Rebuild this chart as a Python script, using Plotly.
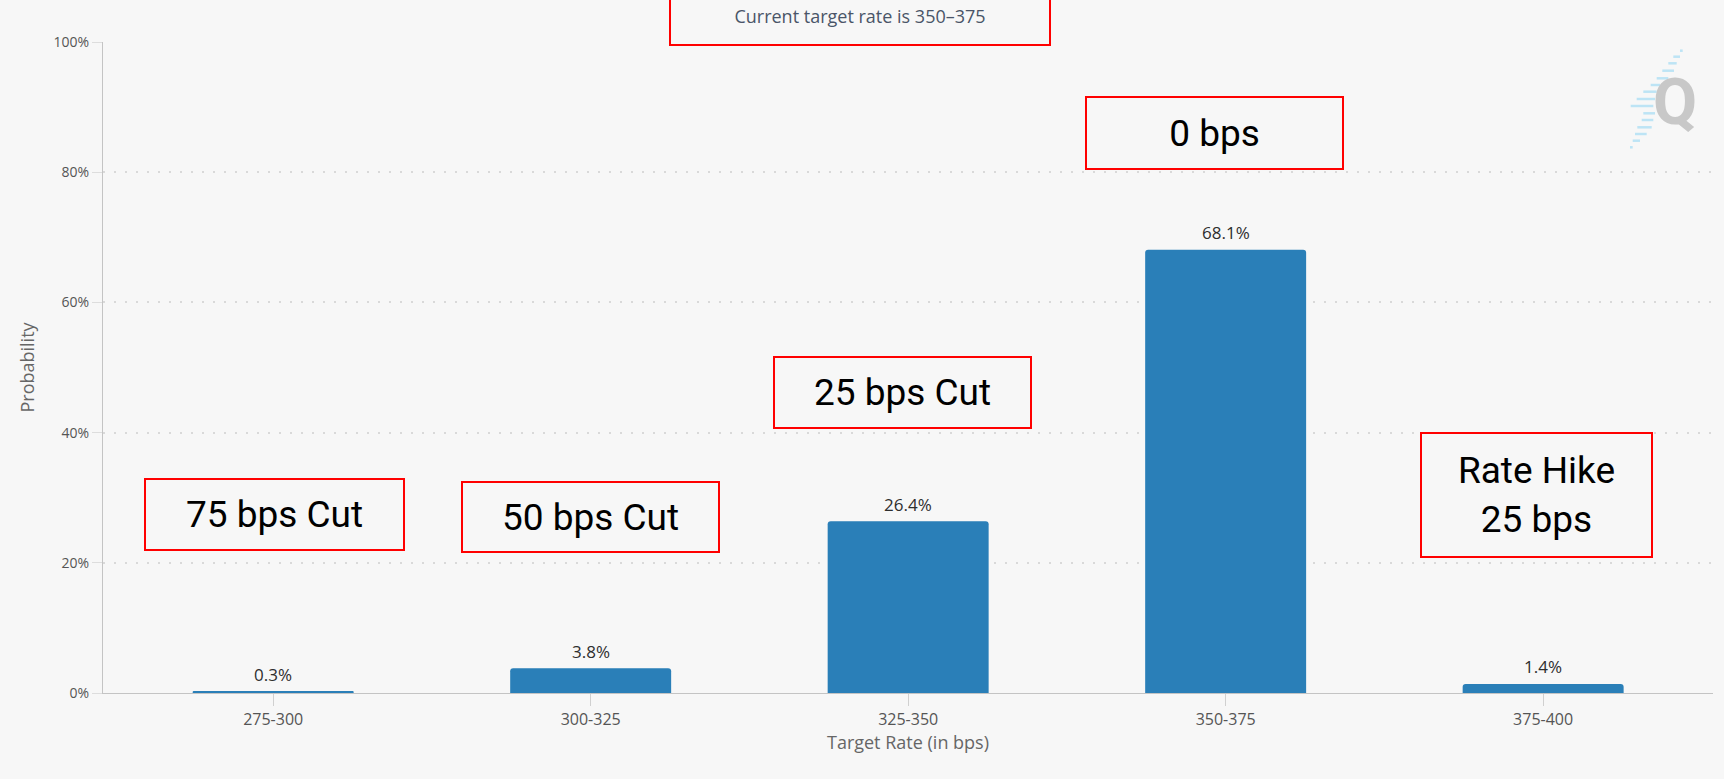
import plotly.graph_objects as go

# --- data ---
target_rates = ["275-300", "300-325", "325-350", "350-375", "375-400"]
probabilities = [0.3, 3.8, 26.4, 68.1, 1.4]
y_ticks = [0, 20, 40, 60, 80, 100]
y_tick_labels = [f"{v}%" for v in y_ticks]

callout_texts = ["75 bps Cut", "50 bps Cut", "25 bps Cut", "0 bps", "Rate Hike<br>25 bps"]
header_text = "Current target rate is 350\u2013375"

# --- geometry of the page (px) ---
W, H = 1724, 779
ML, MR, MT, MB = 103, 11, 42, 86
PW, PH = W - ML - MR, H - MT - MB

BAR_COLOR = "#2a7fb8"
RED = "#ff0000"


def px_x(x):
    return (x - ML) / PW


def px_y(y):
    return (H - MB - y) / PH


fig = go.Figure()

fig.add_trace(go.Bar(
    x=target_rates, y=probabilities,
    marker=dict(color=BAR_COLOR, line=dict(width=0)),
    hovertemplate="%{x}: %{y}%<extra></extra>",
))

# value labels above bars
for rate, p in zip(target_rates, probabilities):
    fig.add_annotation(
        x=rate, y=p, xref="x", yref="y", text=f"{p}%", showarrow=False,
        yanchor="middle", yshift=17,
        font=dict(family="Open Sans", size=17, color="#2e2e2e"),
    )

# red callout boxes (center x, center y, width, height in px)
callout_boxes = [
    (274.5, 514.5, 259, 71),
    (590.4, 516.8, 257, 70),
    (902.7, 392.0, 257, 71),
    (1214.7, 132.5, 257, 72),
    (1536.5, 495.0, 231, 124),
]
for txt, (cx, cy, bw, bh) in zip(callout_texts, callout_boxes):
    fig.add_annotation(
        x=px_x(cx), y=px_y(cy), xref="paper", yref="paper",
        xanchor="center", yanchor="middle", text=txt, showarrow=False,
        width=bw - 2, height=bh - 2, borderpad=0, borderwidth=2,
        bordercolor=RED, align="center", valign="middle",
        font=dict(family="Roboto", size=37, color="#000000"),
    )

# header text with its box cut off at the top of the page
fig.add_annotation(
    x=px_x(860), y=px_y(16), xref="paper", yref="paper",
    xanchor="center", yanchor="middle", text=header_text, showarrow=False,
    width=378, height=56, borderpad=0, borderwidth=2, bordercolor=RED,
    valign="middle",
    font=dict(family="Open Sans", size=18, color="#4a5568"),
)

# faint "Q" watermark at top right
LOGO_DASHES = [
    (50.7, 1680, 1682.7), (56.7, 1673.3, 1680), (63.3, 1668.3, 1676.7),
    (70.7, 1662.3, 1674), (78.3, 1656.7, 1668.3), (85, 1650.7, 1660),
    (91.7, 1643.3, 1656.7), (99, 1636.7, 1655), (106, 1630.7, 1653.3),
    (113.3, 1643.3, 1655), (120, 1641.7, 1653.3), (127.3, 1637.3, 1651.7),
    (134, 1635, 1646.7), (140.7, 1632.7, 1640), (147.3, 1630, 1632.7),
]
for yy, x0, x1 in LOGO_DASHES:
    fig.add_shape(type="line", xref="paper", yref="paper",
                  x0=px_x(x0), x1=px_x(x1), y0=px_y(yy), y1=px_y(yy),
                  line=dict(color="#bde4f5", width=2.5), layer="below")
fig.add_annotation(
    x=px_x(1675), y=px_y(103), xref="paper", yref="paper",
    xanchor="center", yanchor="middle", text="Q", showarrow=False,
    font=dict(family="Roboto", size=64, color="#c8c8c8", weight="bold"),
)

fig.update_layout(
    width=W, height=H,
    margin=dict(l=ML, r=MR, t=MT, b=MB),
    paper_bgcolor="#f7f7f7", plot_bgcolor="#f7f7f7",
    bargap=0.493, barcornerradius=3,
    showlegend=False,
    font=dict(family="Open Sans", color="#555555"),
)

fig.update_xaxes(
    type="category", range=[-0.536, 4.535],
    showline=True, linecolor="#c4c4c4", linewidth=1,
    showgrid=False, zeroline=False,
    ticks="outside", ticklen=12, tickcolor="#d0d0d0", tickwidth=1,
    tickfont=dict(family="Open Sans", size=16, color="#555555"),
    title=dict(text="Target Rate (in bps)", standoff=6,
               font=dict(family="Open Sans", size=18, color="#666666")),
)

fig.update_yaxes(
    range=[0, 100], tickvals=y_ticks, ticktext=y_tick_labels,
    showline=True, linecolor="#c4c4c4", linewidth=1,
    showgrid=True, gridcolor="#d9d9d9", gridwidth=2, griddash="2px,9px",
    zeroline=False,
    ticks="outside", ticklen=10, tickcolor="#dddddd", tickwidth=1,
    tickfont=dict(family="Open Sans", size=14, color="#555555"),
    title=dict(text="Probability", standoff=14,
               font=dict(family="Open Sans", size=18, color="#666666")),
)

fig.write_html("out.html", config={"displayModeBar": False},
               post_script="document.body.style.margin = '0';")
